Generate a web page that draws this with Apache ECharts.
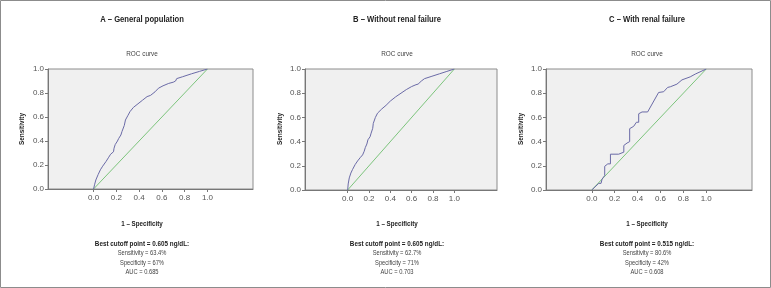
<!DOCTYPE html>
<html>
<head>
<meta charset="utf-8">
<script src="https://cdn.jsdelivr.net/npm/echarts@6/dist/echarts.min.js"></script>
<style>
  html, body { margin: 0; padding: 0; background: #fff; }
  #rocCharts { width: 771px; height: 288px; }
</style>
</head>
<body>
<div id="rocCharts"></div>
<script>
// 数据：三个 ROC 曲线 (1 - 特异度, 灵敏度)
var fprA = [0, 0.01, 0.02, 0.04, 0.06, 0.08, 0.09, 0.11, 0.13, 0.15, 0.175, 0.18, 0.19, 0.21, 0.22, 0.24, 0.25, 0.27, 0.28, 0.30, 0.32, 0.35, 0.39, 0.43, 0.47, 0.50, 0.54, 0.57, 0.61, 0.66, 0.70, 0.72, 0.73, 0.78, 0.86, 0.93, 1];
var tprA = [0, 0.04, 0.075, 0.12, 0.16, 0.19, 0.20, 0.23, 0.26, 0.29, 0.31, 0.34, 0.37, 0.40, 0.42, 0.45, 0.48, 0.53, 0.575, 0.61, 0.645, 0.68, 0.71, 0.74, 0.77, 0.78, 0.81, 0.84, 0.86, 0.88, 0.89, 0.90, 0.92, 0.935, 0.96, 0.98, 1];

var fprB = [0, 0.005, 0.015, 0.03, 0.046, 0.07, 0.093, 0.12, 0.14, 0.155, 0.165, 0.18, 0.19, 0.21, 0.22, 0.235, 0.24, 0.26, 0.28, 0.32, 0.36, 0.40, 0.45, 0.50, 0.55, 0.60, 0.64, 0.66, 0.67, 0.69, 0.72, 0.79, 0.86, 0.93, 1];
var tprB = [0, 0.05, 0.10, 0.14, 0.17, 0.21, 0.24, 0.27, 0.29, 0.32, 0.35, 0.38, 0.415, 0.44, 0.47, 0.51, 0.55, 0.60, 0.635, 0.67, 0.70, 0.735, 0.77, 0.80, 0.83, 0.855, 0.87, 0.875, 0.88, 0.90, 0.92, 0.94, 0.96, 0.98, 1];

var fprC = [0, 0.061, 0.081, 0.09, 0.105, 0.113, 0.113, 0.14, 0.163, 0.163, 0.235, 0.28, 0.28, 0.308, 0.331, 0.331, 0.366, 0.39, 0.41, 0.41, 0.439, 0.488, 0.584, 0.628, 0.663, 0.686, 0.744, 0.788, 0.86, 0.904, 1];
var tprC = [0, 0.055, 0.055, 0.09, 0.105, 0.12, 0.196, 0.216, 0.216, 0.296, 0.296, 0.313, 0.368, 0.388, 0.40, 0.507, 0.526, 0.56, 0.56, 0.63, 0.645, 0.645, 0.806, 0.812, 0.848, 0.853, 0.875, 0.91, 0.935, 0.958, 1];

var diagX = [0, 1];
var diagY = [0, 1];

var tickValues = [0, 0.2, 0.4, 0.6, 0.8, 1];

var panelTitles = ["A – General population", "B – Without renal failure", "C – With renal failure"];
var cutoffs = ["0.605", "0.605", "0.515"];
var sensText = ["63.4%", "62.7%", "80.6%"];
var specText = ["67%", "71%", "42%"];
var aucText = ["0.685", "0.703", "0.608"];

var curves = [[fprA, tprA], [fprB, tprB], [fprC, tprC]];

function zip(xs, ys) {
  return xs.map(function (x, i) { return [x, ys[i]]; });
}

var chart = echarts.init(document.getElementById("rocCharts"));
var font = "'Liberation Sans', Arial, sans-serif";

// 每个面板的布局
var grids = [
  { left: 48, top: 69, width: 205, height: 120 },
  { left: 305, top: 69, width: 192, height: 121 },
  { left: 546, top: 69, width: 206, height: 121 }
];
var textCenters = [142, 397, 647];
var sensLabelX = [22, 280, 521];

var option = {
  animation: false,
  grid: [],
  xAxis: [],
  yAxis: [],
  series: [],
  graphic: []
};

function addText(x, y, text, size, bold, color, sx, rot) {
  option.graphic.push({
    type: "text",
    x: x,
    y: y,
    scaleX: sx,
    rotation: rot || 0,
    silent: true,
    style: {
      text: text,
      textAlign: "center",
      textVerticalAlign: "middle",
      fill: color,
      fontSize: size,
      fontWeight: bold ? "bold" : "normal",
      fontFamily: font
    }
  });
}

grids.forEach(function (g, i) {
  option.grid.push({
    left: g.left, top: g.top, width: g.width, height: g.height,
    show: true,
    backgroundColor: "#f0f0f0",
    borderColor: "#8c8c8c",
    borderWidth: 1
  });
  option.xAxis.push({
    gridIndex: i,
    type: "value",
    min: -0.4,
    max: 1.4,
    interval: 0.2,
    axisLine: { show: true, onZero: false, lineStyle: { color: "#777", width: 1 } },
    axisTick: { show: true, length: 3, customValues: tickValues, lineStyle: { color: "#777" } },
    axisLabel: {
      customValues: tickValues,
      margin: 5,
      color: "#555",
      fontSize: 8,
      fontFamily: font,
      formatter: function (v) { return v.toFixed(1); }
    },
    splitLine: { show: false }
  });
  option.yAxis.push({
    gridIndex: i,
    type: "value",
    min: 0,
    max: 1,
    interval: 0.2,
    axisLine: { show: true, onZero: false, lineStyle: { color: "#777", width: 1 } },
    axisTick: { show: true, length: 3, lineStyle: { color: "#777" } },
    axisLabel: {
      margin: 4,
      color: "#555",
      fontSize: 8,
      fontFamily: font,
      formatter: function (v) { return v.toFixed(1); }
    },
    splitLine: { show: false }
  });
  option.series.push({
    type: "line",
    xAxisIndex: i,
    yAxisIndex: i,
    data: zip(diagX, diagY),
    symbol: "none",
    lineStyle: { color: "#7cc47c", width: 1 },
    z: 2
  });
  option.series.push({
    type: "line",
    xAxisIndex: i,
    yAxisIndex: i,
    data: zip(curves[i][0], curves[i][1]),
    symbol: "none",
    lineStyle: { color: "#6a6aa6", width: 1 },
    z: 3
  });

  var cx = textCenters[i];
  addText(cx, 20, panelTitles[i], 9, true, "#222", 0.85);
  addText(cx, 54, "ROC curve", 8, false, "#444", 0.8);
  addText(sensLabelX[i], 129, "Sensitivity", 8, true, "#222", 0.8, Math.PI / 2);
  addText(cx, 224, "1 – Specificity", 8, true, "#222", 0.78);
  addText(cx, 244, "Best cutoff point = " + cutoffs[i] + " ng/dL:", 8, true, "#222", 0.79);
  addText(cx, 253.5, "Sensitivity = " + sensText[i], 7, false, "#444", 0.82);
  addText(cx, 263, "Specificity = " + specText[i], 7, false, "#444", 0.82);
  addText(cx, 272.5, "AUC = " + aucText[i], 7, false, "#444", 0.82);
});

// 外框
option.graphic.push({
  type: "rect",
  shape: { x: 0.5, y: 0.5, width: 770, height: 287 },
  style: { fill: "none", stroke: "#8c8c8c", lineWidth: 1 },
  silent: true
});

chart.setOption(option);
</script>
</body>
</html>
